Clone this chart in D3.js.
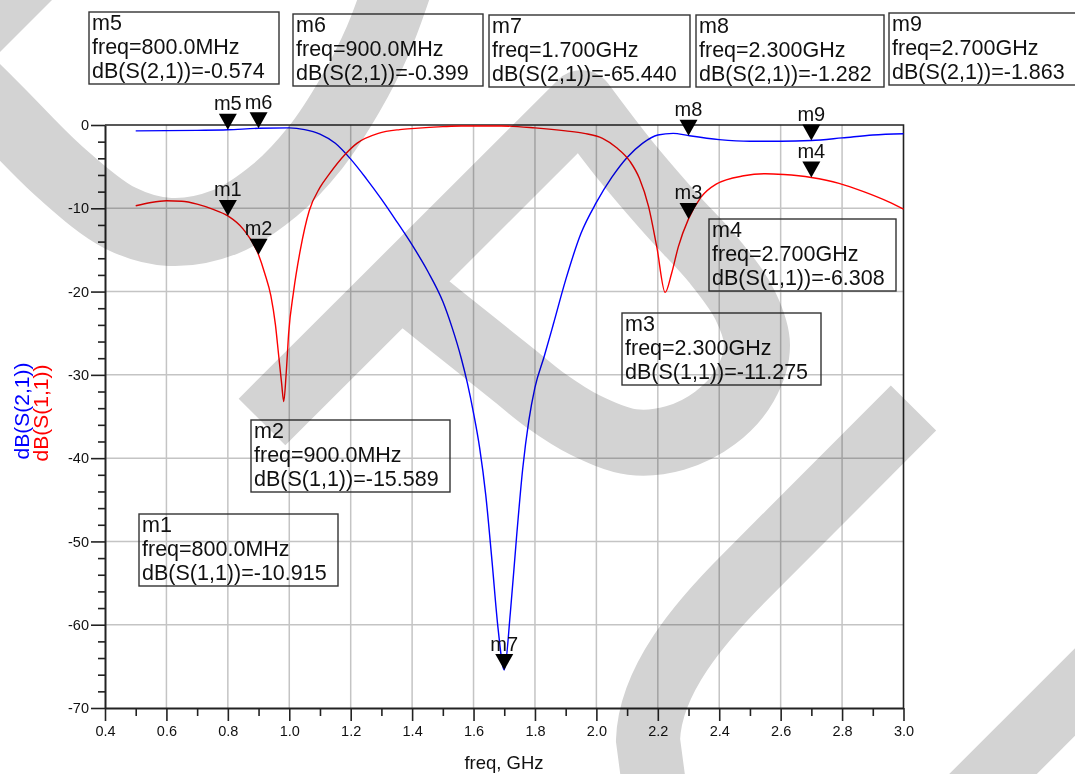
<!DOCTYPE html>
<html>
<head>
<meta charset="utf-8">
<script src="https://cdn.jsdelivr.net/npm/d3@7"></script>
<style>
  html, body { margin: 0; padding: 0; background: #fff; }
  svg { display: block; font-family: "Liberation Sans", Arial, sans-serif; }
</style>
</head>
<body>
<svg id="chart" width="1075" height="774"></svg>
<script>
// ---- S-parameter sweep, 0.5 – 3.0 GHz ----
const s21Freq = [0.50, 0.60, 0.70, 0.80, 0.90, 1.00, 1.05, 1.10, 1.15, 1.20, 1.25, 1.30, 1.35, 1.40, 1.45,
                 1.50, 1.53, 1.56, 1.58, 1.60, 1.62, 1.64, 1.66, 1.68, 1.70, 1.72, 1.74, 1.76, 1.78,
                 1.80, 1.83, 1.86, 1.90, 1.95, 2.00, 2.05, 2.10, 2.15,
                 2.20, 2.25, 2.30, 2.40, 2.50, 2.60, 2.70, 2.80, 2.90, 3.00];
const s21dB   = [-0.70, -0.68, -0.64, -0.574, -0.399, -0.35, -0.55, -1.1, -2.2, -4.1, -6.4, -8.9, -11.6, -14.4, -17.5,
                 -21.2, -24.3, -28.0, -31.0, -34.6, -38.8, -44.5, -52.3, -60.5, -65.44, -58.5, -49.5, -41.3, -35.5,
                 -31.5, -27.8, -23.9, -18.6, -13.0, -9.3, -6.3, -3.9, -2.2,
                 -1.2, -1.0, -1.282, -1.75, -1.95, -1.95, -1.863, -1.55, -1.2, -1.05];

const s11Freq = [0.50, 0.55, 0.60, 0.65, 0.70, 0.75, 0.80, 0.85, 0.90, 0.92, 0.94, 0.955, 0.965, 0.975, 0.982,
                 0.99, 0.998, 1.014, 1.036, 1.065, 1.10, 1.13, 1.18, 1.22, 1.29, 1.36, 1.41, 1.50, 1.56, 1.69,
                 1.80, 1.90, 1.96, 2.02, 2.065, 2.11, 2.14, 2.17, 2.197, 2.224, 2.245, 2.267, 2.30, 2.34, 2.39,
                 2.48, 2.55, 2.61, 2.70, 2.79, 2.87, 2.95, 3.00];
const s11dB   = [-9.7, -9.3, -9.1, -9.15, -9.5, -10.1, -10.915, -12.5, -15.589, -17.8, -20.5, -24.0, -27.5, -31.0, -33.2,
                 -29.8, -25.0, -20.0, -15.0, -10.3, -7.5, -5.9, -3.6, -2.2, -1.0, -0.55, -0.4, -0.2, -0.12, -0.12,
                 -0.35, -0.7, -1.0, -1.6, -2.7, -4.4, -6.4, -9.8, -14.7, -20.1, -17.8, -14.6, -11.275, -8.7, -7.1,
                 -6.1, -5.85, -5.95, -6.308, -7.0, -8.0, -9.2, -10.1];

// ---- axes ----
const xTicks = [0.4, 0.6, 0.8, 1.0, 1.2, 1.4, 1.6, 1.8, 2.0, 2.2, 2.4, 2.6, 2.8, 3.0];
const xMinorTicks = [0.5, 0.7, 0.9, 1.1, 1.3, 1.5, 1.7, 1.9, 2.1, 2.3, 2.5, 2.7, 2.9];
const yTicks = [0, -10, -20, -30, -40, -50, -60, -70];
const yMinorTicks = [-2, -4, -6, -8, -12, -14, -16, -18, -22, -24, -26, -28, -32, -34, -36, -38,
                     -42, -44, -46, -48, -52, -54, -56, -58, -62, -64, -66, -68];

// ---- markers ----
const markerNames = ["m1", "m2", "m3", "m4", "m5", "m6", "m7", "m8", "m9"];
const markerTrace = ["S(1,1)", "S(1,1)", "S(1,1)", "S(1,1)", "S(2,1)", "S(2,1)", "S(2,1)", "S(2,1)", "S(2,1)"];
const markerFreq  = [0.8, 0.9, 2.3, 2.7, 0.8, 0.9, 1.7, 2.3, 2.7];
const markerDB    = [-10.915, -15.589, -11.275, -6.308, -0.574, -0.399, -65.440, -1.282, -1.863];
// readout box placement: left, top, width
const readoutBox = {
  m1: [139, 514, 199], m2: [251, 420, 199], m3: [622, 313, 199], m4: [709, 219, 187],
  m5: [89, 12, 190],   m6: [293, 14, 190],  m7: [489, 15, 201],  m8: [696, 15, 188], m9: [889, 13, 200]
};

const svg = d3.select("#chart");
svg.append("rect").attr("width", 1075).attr("height", 774).attr("fill", "#fff");

const x = d3.scaleLinear().domain([0.4, 3.0]).range([105, 903.5]);
const y = d3.scaleLinear().domain([-70, 0]).range([708, 125]);

// grid
const grid = svg.append("g").attr("stroke", "#c4c4c4").attr("stroke-width", 1.5);
grid.selectAll(".gx").data(xTicks.slice(1, -1)).join("line")
  .attr("x1", d => x(d)).attr("x2", d => x(d)).attr("y1", y(0)).attr("y2", y(-70));
grid.selectAll(".gy").data(yTicks.slice(1, -1)).join("line")
  .attr("x1", x(0.4)).attr("x2", x(3.0)).attr("y1", d => y(d)).attr("y2", d => y(d));

// frame (top / right)
svg.append("path")
  .attr("d", `M${x(0.4)},${y(0)}H${x(3.0)}V${y(-70)}`)
  .attr("fill", "none").attr("stroke", "#222").attr("stroke-width", 1.6);

// left axis
svg.append("g").attr("transform", `translate(${x(0.4)},0)`)
  .call(d3.axisLeft(y).tickValues(yTicks).tickSize(14).tickSizeOuter(0).tickPadding(2)
        .tickFormat(d => String(d)));
svg.append("g").attr("transform", `translate(${x(0.4)},0)`)
  .call(d3.axisLeft(y).tickValues(yMinorTicks).tickSize(7).tickSizeOuter(0).tickFormat(""))
  .select(".domain").remove();

// bottom axis
svg.append("g").attr("transform", `translate(0,${y(-70)})`)
  .call(d3.axisBottom(x).tickValues(xTicks).tickSize(13).tickSizeOuter(0).tickPadding(5)
        .tickFormat(d3.format(".1f")));
svg.append("g").attr("transform", `translate(0,${y(-70)})`)
  .call(d3.axisBottom(x).tickValues(xMinorTicks).tickSize(8).tickSizeOuter(0).tickFormat(""))
  .select(".domain").remove();

svg.selectAll(".domain").attr("stroke", "#222").attr("stroke-width", 2);
svg.selectAll(".tick line").attr("stroke", "#222").attr("stroke-width", 1.6);
svg.selectAll(".tick text").attr("font-size", 14.5).attr("fill", "#111")
  .attr("font-family", "Liberation Sans, Arial, sans-serif");

// axis titles
svg.append("text").attr("transform", "translate(29,411) rotate(-90)")
  .attr("text-anchor", "middle").attr("font-size", 21).attr("fill", "#0000ff").text("dB(S(2,1))");
svg.append("text").attr("transform", "translate(48,413) rotate(-90)")
  .attr("text-anchor", "middle").attr("font-size", 21).attr("fill", "#ff0000").text("dB(S(1,1))");
svg.append("text").attr("x", 504).attr("y", 769)
  .attr("text-anchor", "middle").attr("font-size", 18.5).attr("fill", "#111").text("freq, GHz");

// traces
const line = d3.line().x(d => x(d[0])).y(d => y(d[1])).curve(d3.curveMonotoneX);
svg.append("path").datum(d3.zip(s21Freq, s21dB)).attr("d", line)
  .attr("fill", "none").attr("stroke", "#0000ff").attr("stroke-width", 1.4);
svg.append("path").datum(d3.zip(s11Freq, s11dB)).attr("d", line)
  .attr("fill", "none").attr("stroke", "#ff0000").attr("stroke-width", 1.4);

// markers
const markers = markerNames.map((n, i) => ({ name: n, trace: markerTrace[i], f: markerFreq[i], v: markerDB[i] }));
const mk = svg.append("g");
mk.selectAll("path").data(markers).join("path")
  .attr("d", d => {
    const px = x(d.f), py = y(d.v);
    return `M${px},${py}L${px - 9},${py - 16}L${px + 9},${py - 16}Z`;
  })
  .attr("fill", "#000");
mk.selectAll("text").data(markers).join("text")
  .attr("x", d => x(d.f)).attr("y", d => y(d.v) - 19.5)
  .attr("text-anchor", "middle").attr("font-size", 20).attr("fill", "#111")
  .text(d => d.name);

// readout boxes
const fmtFreq = f => f < 1 ? (f * 1000).toFixed(1) + "MHz" : f.toFixed(3) + "GHz";
const boxes = svg.append("g");
markers.forEach(d => {
  const [bx, by, bw] = readoutBox[d.name];
  const g = boxes.append("g").attr("transform", `translate(${bx},${by})`);
  g.append("rect").attr("width", bw).attr("height", 72)
    .attr("fill", "none").attr("stroke", "#333").attr("stroke-width", 1.4);
  const lines = [d.name, "freq=" + fmtFreq(d.f), `dB(${d.trace})=` + d.v.toFixed(3)];
  g.selectAll("text").data(lines).join("text")
    .attr("x", 3).attr("y", (t, i) => 17.5 + i * 24)
    .attr("font-size", 21.5).attr("fill", "#111").text(t => t);
});

// light grey background strokes, multiplied over the plot
const wm = svg.append("g").style("mix-blend-mode", "multiply")
  .attr("fill", "none").attr("stroke", "#d3d3d3");
const smooth = d3.line().curve(d3.curveCatmullRom.alpha(0.5));
wm.append("path").attr("stroke-width", 68)
  .attr("d", smooth([[-40, 72], [0, 112], [60, 172], [120, 218], [170, 232], [225, 222], [275, 190],
                     [315, 148], [350, 95], [378, 40], [400, -20]]));
const loop = smooth([[581.5, 103], [625, 160], [672, 215], [715, 262], [745, 305], [757, 345], [745, 385],
                     [715, 418], [675, 438], [632, 442], [585, 425], [545, 400], [515, 376], [470, 340], [420, 300]]);
wm.append("path").attr("stroke-width", 66).attr("stroke-linejoin", "round")
  .attr("d", "M262,422L" + loop.slice(1));
wm.append("path").attr("stroke-width", 64)
  .attr("d", "M913.5,408L745,577C700,622 650,680 648,740L656,800");
wm.append("path").attr("stroke-width", 62).attr("d", "M1125,642L935,832");
wm.append("path").attr("stroke", "none").attr("fill", "#d3d3d3").attr("d", "M0,0H52L0,52Z");
</script>
</body>
</html>
